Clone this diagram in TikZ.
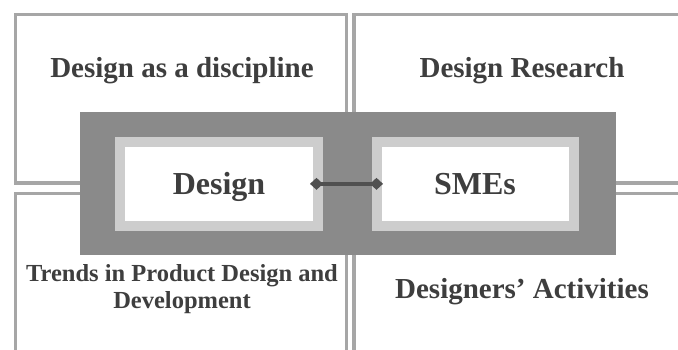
\documentclass[tikz,border=0pt]{standalone}
\usepackage{fontspec}
\setmainfont{Liberation Serif}
\usetikzlibrary{arrows.meta}
\definecolor{quadgray}{RGB}{166,166,166}
\definecolor{boxdark}{RGB}{138,138,138}
\definecolor{rimlight}{RGB}{205,205,205}
\definecolor{inkgray}{RGB}{62,62,62}
\definecolor{linkgray}{RGB}{80,80,80}
\begin{document}
\begin{tikzpicture}[x=1pt, y=-1pt,
  quad/.style={draw=quadgray, line width=3.5pt, fill=white, inner sep=0pt, outer sep=0pt},
  topic/.style={text=inkgray, font=\fontsize{29}{32}\selectfont\bfseries, inner sep=0pt},
  pillar/.style={draw=rimlight, fill=white, line width=10pt, inner sep=0pt, outer sep=0pt,
    minimum height=84.3pt, text=inkgray, font=\fontsize{31}{34}\selectfont\bfseries}]
\useasboundingbox (0,0) rectangle (678,349);
\clip (0,0) rectangle (678,349);

\node[quad, minimum width=331.2pt, minimum height=168.5pt] (q1) at (180.9,98.75) {};
\node[quad, minimum width=346pt, minimum height=168.5pt] (q2) at (527,98.75) {};
\node[quad, minimum width=331.2pt, minimum height=176.3pt] (q3) at (180.9,281.85) {};
\node[quad, minimum width=346pt, minimum height=176.3pt] (q4) at (527,281.85) {};

\node[topic, anchor=base] (t1) at (182,77) {Design as a discipline};
\node[topic, anchor=base] (t2) at (522,77) {Design Research};
\node[topic, align=center, font=\fontsize{24.5}{27}\selectfont\bfseries] (t3) at (182,289) {Trends in Product Design and\\Development};
\node[topic, anchor=base] (t4) at (522,298) {Designers’ Activities};

\node[fill=boxdark, inner sep=0pt, outer sep=0pt, minimum width=536pt, minimum height=142.7pt] (core) at (348,183.65) {};

\node[pillar, minimum width=198.5pt] (dsg) at (218.75,183.85) {};
\node[pillar, minimum width=196.5pt] (sme) at (475.25,183.85) {};
\node[text=inkgray, font=\fontsize{32}{35}\selectfont\bfseries, anchor=base] (dsgl) at (219,194.5) {Design};
\node[text=inkgray, font=\fontsize{32}{35}\selectfont\bfseries, anchor=base] (smel) at (475,194.5) {SMEs};

\draw[linkgray, line width=3.6pt, shorten <=-8pt, shorten >=-6pt,
  {Diamond[length=13pt,width=12pt]}-{Diamond[length=13pt,width=12pt]}] (dsg.east) -- (sme.west);
\end{tikzpicture}
\end{document}
